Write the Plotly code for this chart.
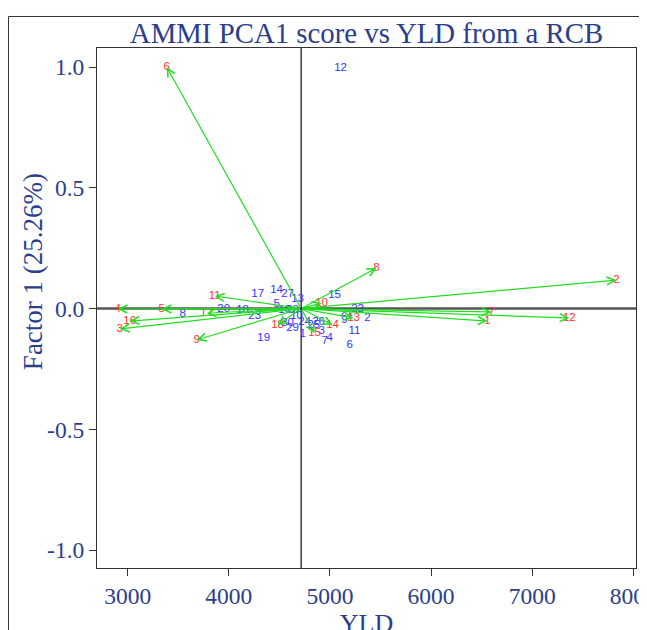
import plotly.graph_objects as go

# Genotype scores (blue labels)
gen_labels = [str(i) for i in range(1, 31)]
gen_yld = [4729, 5371, 4917, 4996, 4472, 5194, 4947, 3543, 5144, 4670,
           5243, 5105, 4680, 4472, 5045, 4551, 4285, 4136, 4344, 3949,
           5164, 5273, 4255, 4749, 4838, 4887, 4581, 4630, 4630, 4581]
gen_pca1 = [-0.106, -0.039, -0.093, -0.122, 0.019, -0.151, -0.135, -0.023, -0.048, -0.031,
            -0.093, 0.996, 0.039, 0.077, 0.056, -0.006, 0.060, -0.006, -0.122, -0.002,
            -0.019, -0.002, -0.031, -0.056, -0.068, -0.056, 0.060, -0.006, -0.081, -0.060]

# Environment scores (red labels, arrows)
env_labels = [str(i) for i in range(1, 19)]
env_yld = [6557, 7832, 2921, 2901, 3336, 3385, 6597, 5460, 3682, 4917,
           3860, 7367, 5233, 5026, 4848, 3020, 3781, 4482]
env_pca1 = [-0.052, 0.118, -0.085, -0.002, -0.002, 1.0, -0.014, 0.168, -0.130, 0.023,
            0.052, -0.039, -0.039, -0.068, -0.102, -0.052, -0.019, -0.068]

mean_yld = 4715

x_ticks = [3000, 4000, 5000, 6000, 7000, 8000]
y_ticks = [1.0, 0.5, 0.0, -0.5, -1.0]
y_ticktext = ["1.0", "0.5", "0.0", "-0.5", "-1.0"]

BLUE_TXT = "#2B3E8C"
SERIF = "Liberation Serif"
GREEN = "#22DD22"

fig = go.Figure()

# arrows from centre to environments
for ex, ey in zip(env_yld, env_pca1):
    fig.add_annotation(x=ex, y=ey, ax=mean_yld, ay=0, xref="x", yref="y",
                       axref="x", ayref="y", text="", showarrow=True,
                       arrowhead=5, arrowsize=1.3, arrowwidth=1.2,
                       arrowcolor=GREEN, standoff=0)

fig.add_trace(go.Scatter(x=gen_yld, y=gen_pca1, mode="text", text=gen_labels,
                         textposition="middle center",
                         textfont=dict(family="Liberation Sans", size=11.5, color="#3333FF"),
                         showlegend=False, hoverinfo="skip"))
fig.add_trace(go.Scatter(x=env_yld, y=env_pca1, mode="text", text=env_labels,
                         textposition="middle center",
                         textfont=dict(family="Liberation Sans", size=11.5, color="#FF3333"),
                         showlegend=False, hoverinfo="skip"))

# reference lines
fig.add_shape(type="line", xref="paper", yref="y", x0=0, x1=1, y0=0, y1=0,
              line=dict(color="#555555", width=2.5), layer="below")
fig.add_shape(type="line", xref="x", yref="paper", x0=mean_yld, x1=mean_yld, y0=0, y1=1,
              line=dict(color="#222222", width=1.3), layer="below")

# outer frame
fig.add_shape(type="rect", xref="paper", yref="paper", x0=-0.1642, x1=1.3,
              y0=-0.4, y1=1.0606, line=dict(color="#333333", width=1))

# y axis title
fig.add_annotation(text="Factor 1 (25.26%)", xref="paper", yref="paper",
                   x=-0.1187, y=0.569, xanchor="center", yanchor="middle",
                   textangle=-90, showarrow=False,
                   font=dict(family=SERIF, size=27, color=BLUE_TXT))

fig.update_layout(
    width=647, height=630,
    margin=dict(l=89, r=19, t=40, b=70, autoexpand=False),
    paper_bgcolor="white", plot_bgcolor="white",
    title=dict(text="AMMI PCA1 score vs YLD from a RCB", x=0.5, xref="paper",
               y=1 - 25 / 630, yanchor="middle", automargin=False,
               font=dict(family=SERIF, size=28.8, color=BLUE_TXT)),
    xaxis=dict(range=[2696, 8026], tickvals=x_ticks, ticks="outside", ticklen=7,
               tickcolor="#333333", showline=True, linecolor="#333333", mirror=True,
               showgrid=False, zeroline=False, automargin=False,
               ticklabeloverflow="allow",
               tickfont=dict(family=SERIF, size=23.5, color=BLUE_TXT),
               title=dict(text="YLD", standoff=2,
                          font=dict(family=SERIF, size=26, color=BLUE_TXT))),
    yaxis=dict(range=[-1.0745, 1.079], tickvals=y_ticks, ticktext=y_ticktext,
               ticks="outside", ticklen=7, tickcolor="#333333", showline=True,
               linecolor="#333333", mirror=True, showgrid=False, zeroline=False,
               automargin=False, ticklabeloverflow="allow",
               tickfont=dict(family=SERIF, size=23.5, color=BLUE_TXT)),
)

fig.write_html("out.html")
